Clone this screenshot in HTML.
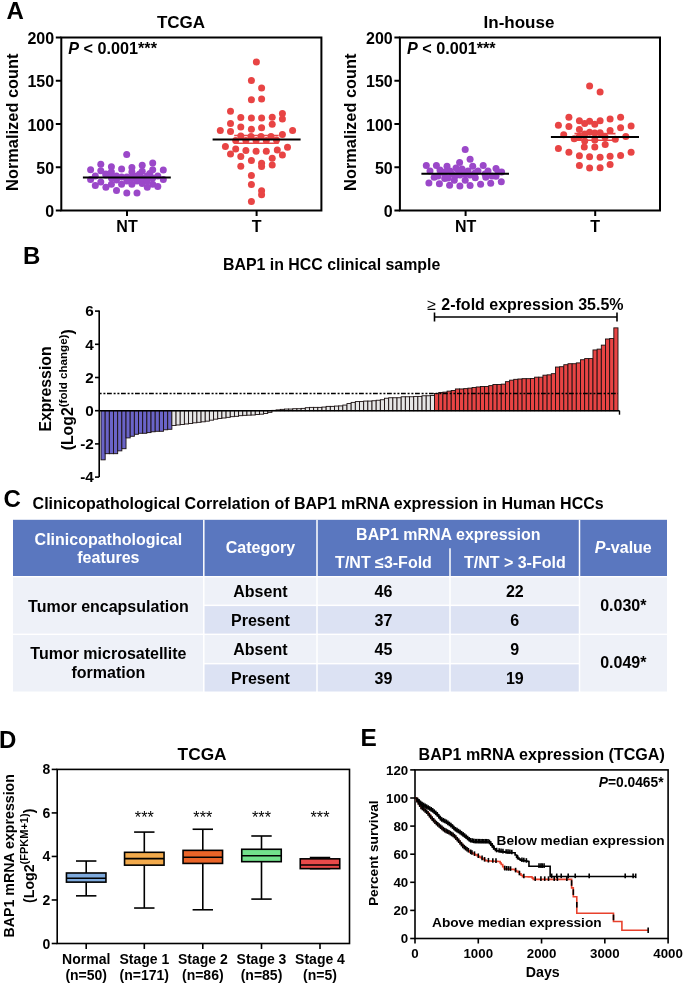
<!DOCTYPE html>
<html><head><meta charset="utf-8"><title>BAP1 figure</title>
<style>
html,body{margin:0;padding:0;background:#fff;}
body{width:685px;height:986px;overflow:hidden;}
svg{display:block;font-family:"Liberation Sans", sans-serif;will-change:transform;}
</style></head>
<body>
<svg width="685" height="986" viewBox="0 0 685 986">
<rect width="685" height="986" fill="#fff"/>
<g id="panelA">
<text x="6.40" y="19.20" font-size="24" text-anchor="start" font-weight="bold" fill="#000">A</text>
<text x="181.00" y="27.70" font-size="17" text-anchor="middle" font-weight="bold" fill="#000">TCGA</text>
<line x1="55.80" y1="210.50" x2="61.30" y2="210.50" stroke="#000" stroke-width="2"/>
<text x="54.10" y="217.00" font-size="16" text-anchor="end" font-weight="bold" fill="#000">0</text>
<line x1="55.80" y1="167.25" x2="61.30" y2="167.25" stroke="#000" stroke-width="2"/>
<text x="54.10" y="173.75" font-size="16" text-anchor="end" font-weight="bold" fill="#000">50</text>
<line x1="55.80" y1="124.00" x2="61.30" y2="124.00" stroke="#000" stroke-width="2"/>
<text x="54.10" y="130.50" font-size="16" text-anchor="end" font-weight="bold" fill="#000">100</text>
<line x1="55.80" y1="80.75" x2="61.30" y2="80.75" stroke="#000" stroke-width="2"/>
<text x="54.10" y="87.25" font-size="16" text-anchor="end" font-weight="bold" fill="#000">150</text>
<line x1="55.80" y1="37.50" x2="61.30" y2="37.50" stroke="#000" stroke-width="2"/>
<text x="54.10" y="44.00" font-size="16" text-anchor="end" font-weight="bold" fill="#000">200</text>
<text x="17.80" y="122.20" font-size="16.4" text-anchor="middle" font-weight="bold" fill="#000" transform="rotate(-90 17.8 122.2)">Normalized count</text>
<line x1="127.00" y1="210.50" x2="127.00" y2="216.00" stroke="#000" stroke-width="2"/>
<text x="127.00" y="231.70" font-size="16" text-anchor="middle" font-weight="bold" fill="#000">NT</text>
<line x1="256.60" y1="210.50" x2="256.60" y2="216.00" stroke="#000" stroke-width="2"/>
<text x="256.60" y="231.70" font-size="16" text-anchor="middle" font-weight="bold" fill="#000">T</text>
<circle cx="126.7" cy="154.4" r="3.5" fill="#9b48c9"/>
<circle cx="90.6" cy="169.7" r="3.5" fill="#9b48c9"/>
<circle cx="90.6" cy="179.6" r="3.5" fill="#9b48c9"/>
<circle cx="95.3" cy="185.4" r="3.5" fill="#9b48c9"/>
<circle cx="95.3" cy="176.0" r="3.5" fill="#9b48c9"/>
<circle cx="100.8" cy="164.2" r="3.5" fill="#9b48c9"/>
<circle cx="100.8" cy="170.8" r="3.5" fill="#9b48c9"/>
<circle cx="100.8" cy="182.1" r="3.5" fill="#9b48c9"/>
<circle cx="105.9" cy="187.2" r="3.5" fill="#9b48c9"/>
<circle cx="105.9" cy="175.0" r="3.5" fill="#9b48c9"/>
<circle cx="111.4" cy="166.8" r="3.5" fill="#9b48c9"/>
<circle cx="111.4" cy="171.9" r="3.5" fill="#9b48c9"/>
<circle cx="111.4" cy="184.3" r="3.5" fill="#9b48c9"/>
<circle cx="111.4" cy="178.0" r="3.5" fill="#9b48c9"/>
<circle cx="116.5" cy="190.5" r="3.5" fill="#9b48c9"/>
<circle cx="116.5" cy="176.0" r="3.5" fill="#9b48c9"/>
<circle cx="121.6" cy="169.0" r="3.5" fill="#9b48c9"/>
<circle cx="121.6" cy="184.3" r="3.5" fill="#9b48c9"/>
<circle cx="121.6" cy="177.0" r="3.5" fill="#9b48c9"/>
<circle cx="126.8" cy="193.1" r="3.5" fill="#9b48c9"/>
<circle cx="126.8" cy="177.0" r="3.5" fill="#9b48c9"/>
<circle cx="131.9" cy="167.5" r="3.5" fill="#9b48c9"/>
<circle cx="131.9" cy="171.9" r="3.5" fill="#9b48c9"/>
<circle cx="131.9" cy="184.3" r="3.5" fill="#9b48c9"/>
<circle cx="131.9" cy="178.0" r="3.5" fill="#9b48c9"/>
<circle cx="137.0" cy="193.1" r="3.5" fill="#9b48c9"/>
<circle cx="137.0" cy="176.0" r="3.5" fill="#9b48c9"/>
<circle cx="142.2" cy="165.3" r="3.5" fill="#9b48c9"/>
<circle cx="142.2" cy="171.2" r="3.5" fill="#9b48c9"/>
<circle cx="142.2" cy="183.6" r="3.5" fill="#9b48c9"/>
<circle cx="142.2" cy="178.0" r="3.5" fill="#9b48c9"/>
<circle cx="147.3" cy="187.2" r="3.5" fill="#9b48c9"/>
<circle cx="147.3" cy="176.0" r="3.5" fill="#9b48c9"/>
<circle cx="152.7" cy="163.1" r="3.5" fill="#9b48c9"/>
<circle cx="152.7" cy="169.7" r="3.5" fill="#9b48c9"/>
<circle cx="152.7" cy="184.3" r="3.5" fill="#9b48c9"/>
<circle cx="152.7" cy="178.0" r="3.5" fill="#9b48c9"/>
<circle cx="157.8" cy="186.5" r="3.5" fill="#9b48c9"/>
<circle cx="157.8" cy="176.0" r="3.5" fill="#9b48c9"/>
<circle cx="163.3" cy="170.1" r="3.5" fill="#9b48c9"/>
<circle cx="163.3" cy="179.6" r="3.5" fill="#9b48c9"/>
<circle cx="139.6" cy="174.1" r="3.5" fill="#9b48c9"/>
<circle cx="149.8" cy="173.4" r="3.5" fill="#9b48c9"/>
<circle cx="105.9" cy="174.0" r="3.5" fill="#9b48c9"/>
<circle cx="116.5" cy="180.0" r="3.5" fill="#9b48c9"/>
<circle cx="126.8" cy="181.0" r="3.5" fill="#9b48c9"/>
<circle cx="137.0" cy="181.0" r="3.5" fill="#9b48c9"/>
<circle cx="147.3" cy="181.0" r="3.5" fill="#9b48c9"/>
<circle cx="256.4" cy="61.9" r="3.5" fill="#e84444"/>
<circle cx="251.4" cy="80.5" r="3.5" fill="#e84444"/>
<circle cx="261.6" cy="88.1" r="3.5" fill="#e84444"/>
<circle cx="251.4" cy="99.8" r="3.5" fill="#e84444"/>
<circle cx="261.6" cy="99.1" r="3.5" fill="#e84444"/>
<circle cx="230.5" cy="111.2" r="3.5" fill="#e84444"/>
<circle cx="240.8" cy="117.5" r="3.5" fill="#e84444"/>
<circle cx="251.4" cy="118.1" r="3.5" fill="#e84444"/>
<circle cx="261.6" cy="118.1" r="3.5" fill="#e84444"/>
<circle cx="272.2" cy="117.3" r="3.5" fill="#e84444"/>
<circle cx="282.4" cy="113.4" r="3.5" fill="#e84444"/>
<circle cx="282.4" cy="119.0" r="3.5" fill="#e84444"/>
<circle cx="230.5" cy="123.6" r="3.5" fill="#e84444"/>
<circle cx="240.8" cy="127.0" r="3.5" fill="#e84444"/>
<circle cx="251.4" cy="129.2" r="3.5" fill="#e84444"/>
<circle cx="261.6" cy="127.7" r="3.5" fill="#e84444"/>
<circle cx="272.2" cy="124.3" r="3.5" fill="#e84444"/>
<circle cx="220.3" cy="130.6" r="3.5" fill="#e84444"/>
<circle cx="292.6" cy="130.6" r="3.5" fill="#e84444"/>
<circle cx="230.5" cy="131.6" r="3.5" fill="#e84444"/>
<circle cx="282.4" cy="134.5" r="3.5" fill="#e84444"/>
<circle cx="240.8" cy="136.0" r="3.5" fill="#e84444"/>
<circle cx="235.7" cy="140.5" r="3.5" fill="#e84444"/>
<circle cx="245.9" cy="140.5" r="3.5" fill="#e84444"/>
<circle cx="256.1" cy="140.5" r="3.5" fill="#e84444"/>
<circle cx="266.3" cy="140.5" r="3.5" fill="#e84444"/>
<circle cx="276.5" cy="140.0" r="3.5" fill="#e84444"/>
<circle cx="251.0" cy="136.5" r="3.5" fill="#e84444"/>
<circle cx="261.0" cy="136.5" r="3.5" fill="#e84444"/>
<circle cx="271.0" cy="136.5" r="3.5" fill="#e84444"/>
<circle cx="225.4" cy="146.6" r="3.5" fill="#e84444"/>
<circle cx="235.7" cy="149.1" r="3.5" fill="#e84444"/>
<circle cx="245.9" cy="150.5" r="3.5" fill="#e84444"/>
<circle cx="256.1" cy="151.3" r="3.5" fill="#e84444"/>
<circle cx="266.3" cy="151.3" r="3.5" fill="#e84444"/>
<circle cx="277.3" cy="150.1" r="3.5" fill="#e84444"/>
<circle cx="287.5" cy="147.2" r="3.5" fill="#e84444"/>
<circle cx="230.5" cy="153.9" r="3.5" fill="#e84444"/>
<circle cx="240.8" cy="156.4" r="3.5" fill="#e84444"/>
<circle cx="282.4" cy="154.9" r="3.5" fill="#e84444"/>
<circle cx="272.2" cy="158.3" r="3.5" fill="#e84444"/>
<circle cx="251.4" cy="160.5" r="3.5" fill="#e84444"/>
<circle cx="261.6" cy="163.2" r="3.5" fill="#e84444"/>
<circle cx="240.8" cy="166.3" r="3.5" fill="#e84444"/>
<circle cx="261.6" cy="166.6" r="3.5" fill="#e84444"/>
<circle cx="272.2" cy="165.1" r="3.5" fill="#e84444"/>
<circle cx="251.4" cy="175.4" r="3.5" fill="#e84444"/>
<circle cx="251.4" cy="184.6" r="3.5" fill="#e84444"/>
<circle cx="261.6" cy="190.7" r="3.5" fill="#e84444"/>
<circle cx="261.6" cy="194.8" r="3.5" fill="#e84444"/>
<circle cx="251.4" cy="201.4" r="3.5" fill="#e84444"/>
<line x1="234.20" y1="135.50" x2="278.70" y2="135.50" stroke="#e84444" stroke-width="1.6"/>
<line x1="234.20" y1="143.20" x2="278.70" y2="143.20" stroke="#e84444" stroke-width="1.6"/>
<line x1="82.90" y1="177.50" x2="170.80" y2="177.50" stroke="#000" stroke-width="2"/>
<line x1="212.60" y1="139.60" x2="300.60" y2="139.60" stroke="#000" stroke-width="2"/>
<rect x="61.30" y="37.50" width="260.10" height="173.00" fill="none" stroke="#000" stroke-width="2"/>
<text x="68.30" y="54.2" font-size="16.2" font-weight="bold"><tspan font-style="italic">P</tspan> &lt; 0.001***</text>
<text x="519.00" y="27.70" font-size="17" text-anchor="middle" font-weight="bold" fill="#000">In-house</text>
<line x1="394.40" y1="210.50" x2="399.90" y2="210.50" stroke="#000" stroke-width="2"/>
<text x="392.70" y="217.00" font-size="16" text-anchor="end" font-weight="bold" fill="#000">0</text>
<line x1="394.40" y1="167.25" x2="399.90" y2="167.25" stroke="#000" stroke-width="2"/>
<text x="392.70" y="173.75" font-size="16" text-anchor="end" font-weight="bold" fill="#000">50</text>
<line x1="394.40" y1="124.00" x2="399.90" y2="124.00" stroke="#000" stroke-width="2"/>
<text x="392.70" y="130.50" font-size="16" text-anchor="end" font-weight="bold" fill="#000">100</text>
<line x1="394.40" y1="80.75" x2="399.90" y2="80.75" stroke="#000" stroke-width="2"/>
<text x="392.70" y="87.25" font-size="16" text-anchor="end" font-weight="bold" fill="#000">150</text>
<line x1="394.40" y1="37.50" x2="399.90" y2="37.50" stroke="#000" stroke-width="2"/>
<text x="392.70" y="44.00" font-size="16" text-anchor="end" font-weight="bold" fill="#000">200</text>
<text x="356.40" y="122.20" font-size="16.4" text-anchor="middle" font-weight="bold" fill="#000" transform="rotate(-90 356.40000000000003 122.2)">Normalized count</text>
<line x1="465.60" y1="210.50" x2="465.60" y2="216.00" stroke="#000" stroke-width="2"/>
<text x="465.60" y="231.70" font-size="16" text-anchor="middle" font-weight="bold" fill="#000">NT</text>
<line x1="595.20" y1="210.50" x2="595.20" y2="216.00" stroke="#000" stroke-width="2"/>
<text x="595.20" y="231.70" font-size="16" text-anchor="middle" font-weight="bold" fill="#000">T</text>
<circle cx="465.2" cy="149.6" r="3.5" fill="#9b48c9"/>
<circle cx="470.1" cy="159.3" r="3.5" fill="#9b48c9"/>
<circle cx="459.6" cy="162.4" r="3.5" fill="#9b48c9"/>
<circle cx="426.3" cy="165.4" r="3.5" fill="#9b48c9"/>
<circle cx="436.4" cy="165.4" r="3.5" fill="#9b48c9"/>
<circle cx="447.0" cy="166.3" r="3.5" fill="#9b48c9"/>
<circle cx="483.2" cy="165.4" r="3.5" fill="#9b48c9"/>
<circle cx="496.0" cy="168.4" r="3.5" fill="#9b48c9"/>
<circle cx="501.6" cy="172.1" r="3.5" fill="#9b48c9"/>
<circle cx="472.7" cy="166.3" r="3.5" fill="#9b48c9"/>
<circle cx="428.9" cy="182.9" r="3.5" fill="#9b48c9"/>
<circle cx="439.4" cy="183.8" r="3.5" fill="#9b48c9"/>
<circle cx="449.6" cy="185.2" r="3.5" fill="#9b48c9"/>
<circle cx="459.9" cy="186.1" r="3.5" fill="#9b48c9"/>
<circle cx="470.1" cy="185.5" r="3.5" fill="#9b48c9"/>
<circle cx="480.6" cy="184.3" r="3.5" fill="#9b48c9"/>
<circle cx="490.7" cy="183.3" r="3.5" fill="#9b48c9"/>
<circle cx="501.3" cy="181.7" r="3.5" fill="#9b48c9"/>
<circle cx="434.2" cy="177.3" r="3.5" fill="#9b48c9"/>
<circle cx="444.7" cy="178.5" r="3.5" fill="#9b48c9"/>
<circle cx="454.3" cy="180.3" r="3.5" fill="#9b48c9"/>
<circle cx="465.2" cy="180.3" r="3.5" fill="#9b48c9"/>
<circle cx="475.3" cy="177.7" r="3.5" fill="#9b48c9"/>
<circle cx="485.8" cy="177.3" r="3.5" fill="#9b48c9"/>
<circle cx="496.0" cy="176.3" r="3.5" fill="#9b48c9"/>
<circle cx="430.0" cy="171.0" r="3.5" fill="#9b48c9"/>
<circle cx="440.0" cy="170.0" r="3.5" fill="#9b48c9"/>
<circle cx="450.0" cy="171.0" r="3.5" fill="#9b48c9"/>
<circle cx="456.0" cy="168.0" r="3.5" fill="#9b48c9"/>
<circle cx="462.0" cy="169.0" r="3.5" fill="#9b48c9"/>
<circle cx="468.0" cy="171.0" r="3.5" fill="#9b48c9"/>
<circle cx="478.0" cy="171.0" r="3.5" fill="#9b48c9"/>
<circle cx="488.0" cy="171.0" r="3.5" fill="#9b48c9"/>
<circle cx="498.0" cy="172.0" r="3.5" fill="#9b48c9"/>
<circle cx="452.0" cy="174.0" r="3.5" fill="#9b48c9"/>
<circle cx="460.0" cy="175.0" r="3.5" fill="#9b48c9"/>
<circle cx="470.0" cy="175.0" r="3.5" fill="#9b48c9"/>
<circle cx="444.0" cy="173.0" r="3.5" fill="#9b48c9"/>
<circle cx="445.0" cy="172.0" r="3.5" fill="#9b48c9"/>
<circle cx="455.0" cy="176.0" r="3.5" fill="#9b48c9"/>
<circle cx="465.0" cy="174.0" r="3.5" fill="#9b48c9"/>
<circle cx="475.0" cy="173.0" r="3.5" fill="#9b48c9"/>
<circle cx="485.0" cy="174.0" r="3.5" fill="#9b48c9"/>
<circle cx="438.0" cy="176.0" r="3.5" fill="#9b48c9"/>
<circle cx="492.0" cy="176.0" r="3.5" fill="#9b48c9"/>
<circle cx="458.0" cy="170.0" r="3.5" fill="#9b48c9"/>
<circle cx="448.0" cy="178.0" r="3.5" fill="#9b48c9"/>
<circle cx="589.6" cy="86.1" r="3.5" fill="#e84444"/>
<circle cx="600.1" cy="91.9" r="3.5" fill="#e84444"/>
<circle cx="568.9" cy="117.3" r="3.5" fill="#e84444"/>
<circle cx="620.6" cy="117.3" r="3.5" fill="#e84444"/>
<circle cx="579.4" cy="120.8" r="3.5" fill="#e84444"/>
<circle cx="589.6" cy="121.2" r="3.5" fill="#e84444"/>
<circle cx="600.1" cy="120.8" r="3.5" fill="#e84444"/>
<circle cx="610.1" cy="119.1" r="3.5" fill="#e84444"/>
<circle cx="584.7" cy="123.4" r="3.5" fill="#e84444"/>
<circle cx="594.8" cy="124.3" r="3.5" fill="#e84444"/>
<circle cx="558.4" cy="125.2" r="3.5" fill="#e84444"/>
<circle cx="568.9" cy="126.4" r="3.5" fill="#e84444"/>
<circle cx="620.6" cy="127.8" r="3.5" fill="#e84444"/>
<circle cx="631.1" cy="126.1" r="3.5" fill="#e84444"/>
<circle cx="579.4" cy="129.6" r="3.5" fill="#e84444"/>
<circle cx="610.1" cy="130.4" r="3.5" fill="#e84444"/>
<circle cx="563.7" cy="134.8" r="3.5" fill="#e84444"/>
<circle cx="584.7" cy="134.0" r="3.5" fill="#e84444"/>
<circle cx="589.6" cy="132.2" r="3.5" fill="#e84444"/>
<circle cx="594.8" cy="133.1" r="3.5" fill="#e84444"/>
<circle cx="600.1" cy="132.7" r="3.5" fill="#e84444"/>
<circle cx="574.2" cy="138.7" r="3.5" fill="#e84444"/>
<circle cx="584.7" cy="141.0" r="3.5" fill="#e84444"/>
<circle cx="594.8" cy="140.0" r="3.5" fill="#e84444"/>
<circle cx="615.3" cy="139.2" r="3.5" fill="#e84444"/>
<circle cx="625.8" cy="136.6" r="3.5" fill="#e84444"/>
<circle cx="558.4" cy="148.5" r="3.5" fill="#e84444"/>
<circle cx="568.9" cy="152.3" r="3.5" fill="#e84444"/>
<circle cx="584.3" cy="147.1" r="3.5" fill="#e84444"/>
<circle cx="594.8" cy="147.1" r="3.5" fill="#e84444"/>
<circle cx="605.2" cy="144.5" r="3.5" fill="#e84444"/>
<circle cx="579.4" cy="155.8" r="3.5" fill="#e84444"/>
<circle cx="589.6" cy="156.7" r="3.5" fill="#e84444"/>
<circle cx="600.1" cy="157.2" r="3.5" fill="#e84444"/>
<circle cx="610.1" cy="156.2" r="3.5" fill="#e84444"/>
<circle cx="620.6" cy="155.5" r="3.5" fill="#e84444"/>
<circle cx="631.1" cy="152.3" r="3.5" fill="#e84444"/>
<circle cx="579.4" cy="165.5" r="3.5" fill="#e84444"/>
<circle cx="589.6" cy="168.1" r="3.5" fill="#e84444"/>
<circle cx="600.1" cy="167.8" r="3.5" fill="#e84444"/>
<circle cx="610.1" cy="164.6" r="3.5" fill="#e84444"/>
<circle cx="605.0" cy="137.0" r="3.5" fill="#e84444"/>
<circle cx="579.0" cy="137.0" r="3.5" fill="#e84444"/>
<line x1="574.50" y1="133.60" x2="615.50" y2="133.60" stroke="#e84444" stroke-width="1.6"/>
<line x1="574.50" y1="140.20" x2="615.50" y2="140.20" stroke="#e84444" stroke-width="1.6"/>
<line x1="421.40" y1="173.70" x2="509.00" y2="173.70" stroke="#000" stroke-width="2"/>
<line x1="550.90" y1="136.90" x2="639.00" y2="136.90" stroke="#000" stroke-width="2"/>
<rect x="399.90" y="37.50" width="260.10" height="173.00" fill="none" stroke="#000" stroke-width="2"/>
<text x="406.90" y="54.2" font-size="16.2" font-weight="bold"><tspan font-style="italic">P</tspan> &lt; 0.001***</text>
</g>
<g id="panelB">
<text x="23.00" y="263.80" font-size="24" text-anchor="start" font-weight="bold" fill="#000">B</text>
<text x="223.00" y="269.50" font-size="15.9" text-anchor="start" font-weight="bold" fill="#000">BAP1 in HCC clinical sample</text>
<rect x="101.00" y="410.70" width="4.17" height="49.14" fill="#6a64c8" stroke="#1a1010" stroke-width="0.9"/>
<rect x="105.17" y="410.70" width="4.17" height="42.99" fill="#6a64c8" stroke="#1a1010" stroke-width="0.9"/>
<rect x="109.34" y="410.70" width="4.17" height="42.99" fill="#6a64c8" stroke="#1a1010" stroke-width="0.9"/>
<rect x="113.51" y="410.70" width="4.17" height="42.99" fill="#6a64c8" stroke="#1a1010" stroke-width="0.9"/>
<rect x="117.68" y="410.70" width="4.17" height="40.17" fill="#6a64c8" stroke="#1a1010" stroke-width="0.9"/>
<rect x="121.85" y="410.70" width="4.17" height="38.01" fill="#6a64c8" stroke="#1a1010" stroke-width="0.9"/>
<rect x="126.02" y="410.70" width="4.17" height="27.22" fill="#6a64c8" stroke="#1a1010" stroke-width="0.9"/>
<rect x="130.19" y="410.70" width="4.17" height="25.56" fill="#6a64c8" stroke="#1a1010" stroke-width="0.9"/>
<rect x="134.35" y="410.70" width="4.17" height="23.57" fill="#6a64c8" stroke="#1a1010" stroke-width="0.9"/>
<rect x="138.52" y="410.70" width="4.17" height="22.58" fill="#6a64c8" stroke="#1a1010" stroke-width="0.9"/>
<rect x="142.69" y="410.70" width="4.17" height="22.58" fill="#6a64c8" stroke="#1a1010" stroke-width="0.9"/>
<rect x="146.86" y="410.70" width="4.17" height="21.91" fill="#6a64c8" stroke="#1a1010" stroke-width="0.9"/>
<rect x="151.03" y="410.70" width="4.17" height="21.08" fill="#6a64c8" stroke="#1a1010" stroke-width="0.9"/>
<rect x="155.20" y="410.70" width="4.17" height="20.58" fill="#6a64c8" stroke="#1a1010" stroke-width="0.9"/>
<rect x="159.37" y="410.70" width="4.17" height="20.58" fill="#6a64c8" stroke="#1a1010" stroke-width="0.9"/>
<rect x="163.54" y="410.70" width="4.17" height="19.09" fill="#6a64c8" stroke="#1a1010" stroke-width="0.9"/>
<rect x="167.71" y="410.70" width="4.17" height="18.59" fill="#6a64c8" stroke="#1a1010" stroke-width="0.9"/>
<rect x="171.88" y="410.70" width="4.17" height="14.77" fill="#e6e6e6" stroke="#1a1010" stroke-width="0.9"/>
<rect x="176.05" y="410.70" width="4.17" height="14.28" fill="#e6e6e6" stroke="#1a1010" stroke-width="0.9"/>
<rect x="180.22" y="410.70" width="4.17" height="13.78" fill="#e6e6e6" stroke="#1a1010" stroke-width="0.9"/>
<rect x="184.39" y="410.70" width="4.17" height="13.28" fill="#e6e6e6" stroke="#1a1010" stroke-width="0.9"/>
<rect x="188.56" y="410.70" width="4.17" height="12.78" fill="#e6e6e6" stroke="#1a1010" stroke-width="0.9"/>
<rect x="192.73" y="410.70" width="4.17" height="12.12" fill="#e6e6e6" stroke="#1a1010" stroke-width="0.9"/>
<rect x="196.90" y="410.70" width="4.17" height="11.62" fill="#e6e6e6" stroke="#1a1010" stroke-width="0.9"/>
<rect x="201.06" y="410.70" width="4.17" height="11.12" fill="#e6e6e6" stroke="#1a1010" stroke-width="0.9"/>
<rect x="205.23" y="410.70" width="4.17" height="10.46" fill="#e6e6e6" stroke="#1a1010" stroke-width="0.9"/>
<rect x="209.40" y="410.70" width="4.17" height="9.46" fill="#e6e6e6" stroke="#1a1010" stroke-width="0.9"/>
<rect x="213.57" y="410.70" width="4.17" height="8.47" fill="#e6e6e6" stroke="#1a1010" stroke-width="0.9"/>
<rect x="217.74" y="410.70" width="4.17" height="7.80" fill="#e6e6e6" stroke="#1a1010" stroke-width="0.9"/>
<rect x="221.91" y="410.70" width="4.17" height="7.30" fill="#e6e6e6" stroke="#1a1010" stroke-width="0.9"/>
<rect x="226.08" y="410.70" width="4.17" height="6.64" fill="#e6e6e6" stroke="#1a1010" stroke-width="0.9"/>
<rect x="230.25" y="410.70" width="4.17" height="5.98" fill="#e6e6e6" stroke="#1a1010" stroke-width="0.9"/>
<rect x="234.42" y="410.70" width="4.17" height="5.64" fill="#e6e6e6" stroke="#1a1010" stroke-width="0.9"/>
<rect x="238.59" y="410.70" width="4.17" height="4.98" fill="#e6e6e6" stroke="#1a1010" stroke-width="0.9"/>
<rect x="242.76" y="410.70" width="4.17" height="4.65" fill="#e6e6e6" stroke="#1a1010" stroke-width="0.9"/>
<rect x="246.93" y="410.70" width="4.17" height="4.48" fill="#e6e6e6" stroke="#1a1010" stroke-width="0.9"/>
<rect x="251.10" y="410.70" width="4.17" height="4.32" fill="#e6e6e6" stroke="#1a1010" stroke-width="0.9"/>
<rect x="255.27" y="410.70" width="4.17" height="3.82" fill="#e6e6e6" stroke="#1a1010" stroke-width="0.9"/>
<rect x="259.44" y="410.70" width="4.17" height="3.49" fill="#e6e6e6" stroke="#1a1010" stroke-width="0.9"/>
<rect x="263.60" y="410.70" width="4.17" height="2.82" fill="#e6e6e6" stroke="#1a1010" stroke-width="0.9"/>
<rect x="267.77" y="410.70" width="4.17" height="1.66" fill="#e6e6e6" stroke="#1a1010" stroke-width="0.9"/>
<rect x="271.94" y="410.37" width="4.17" height="0.33" fill="#e6e6e6" stroke="#1a1010" stroke-width="0.9"/>
<rect x="276.11" y="409.87" width="4.17" height="0.83" fill="#e6e6e6" stroke="#1a1010" stroke-width="0.9"/>
<rect x="280.28" y="409.37" width="4.17" height="1.33" fill="#e6e6e6" stroke="#1a1010" stroke-width="0.9"/>
<rect x="284.45" y="409.04" width="4.17" height="1.66" fill="#e6e6e6" stroke="#1a1010" stroke-width="0.9"/>
<rect x="288.62" y="409.04" width="4.17" height="1.66" fill="#e6e6e6" stroke="#1a1010" stroke-width="0.9"/>
<rect x="292.79" y="408.71" width="4.17" height="1.99" fill="#e6e6e6" stroke="#1a1010" stroke-width="0.9"/>
<rect x="296.96" y="408.71" width="4.17" height="1.99" fill="#e6e6e6" stroke="#1a1010" stroke-width="0.9"/>
<rect x="301.13" y="408.38" width="4.17" height="2.32" fill="#e6e6e6" stroke="#1a1010" stroke-width="0.9"/>
<rect x="305.30" y="407.71" width="4.17" height="2.99" fill="#e6e6e6" stroke="#1a1010" stroke-width="0.9"/>
<rect x="309.47" y="407.38" width="4.17" height="3.32" fill="#e6e6e6" stroke="#1a1010" stroke-width="0.9"/>
<rect x="313.64" y="407.38" width="4.17" height="3.32" fill="#e6e6e6" stroke="#1a1010" stroke-width="0.9"/>
<rect x="317.81" y="407.38" width="4.17" height="3.32" fill="#e6e6e6" stroke="#1a1010" stroke-width="0.9"/>
<rect x="321.98" y="407.05" width="4.17" height="3.65" fill="#e6e6e6" stroke="#1a1010" stroke-width="0.9"/>
<rect x="326.15" y="406.38" width="4.17" height="4.32" fill="#e6e6e6" stroke="#1a1010" stroke-width="0.9"/>
<rect x="330.31" y="406.38" width="4.17" height="4.32" fill="#e6e6e6" stroke="#1a1010" stroke-width="0.9"/>
<rect x="334.48" y="406.05" width="4.17" height="4.65" fill="#e6e6e6" stroke="#1a1010" stroke-width="0.9"/>
<rect x="338.65" y="405.89" width="4.17" height="4.81" fill="#e6e6e6" stroke="#1a1010" stroke-width="0.9"/>
<rect x="342.82" y="405.06" width="4.17" height="5.64" fill="#e6e6e6" stroke="#1a1010" stroke-width="0.9"/>
<rect x="346.99" y="403.56" width="4.17" height="7.14" fill="#e6e6e6" stroke="#1a1010" stroke-width="0.9"/>
<rect x="351.16" y="402.40" width="4.17" height="8.30" fill="#e6e6e6" stroke="#1a1010" stroke-width="0.9"/>
<rect x="355.33" y="401.57" width="4.17" height="9.13" fill="#e6e6e6" stroke="#1a1010" stroke-width="0.9"/>
<rect x="359.50" y="401.57" width="4.17" height="9.13" fill="#e6e6e6" stroke="#1a1010" stroke-width="0.9"/>
<rect x="363.67" y="401.07" width="4.17" height="9.63" fill="#e6e6e6" stroke="#1a1010" stroke-width="0.9"/>
<rect x="367.84" y="401.07" width="4.17" height="9.63" fill="#e6e6e6" stroke="#1a1010" stroke-width="0.9"/>
<rect x="372.01" y="400.74" width="4.17" height="9.96" fill="#e6e6e6" stroke="#1a1010" stroke-width="0.9"/>
<rect x="376.18" y="400.24" width="4.17" height="10.46" fill="#e6e6e6" stroke="#1a1010" stroke-width="0.9"/>
<rect x="380.35" y="399.74" width="4.17" height="10.96" fill="#e6e6e6" stroke="#1a1010" stroke-width="0.9"/>
<rect x="384.52" y="398.25" width="4.17" height="12.45" fill="#e6e6e6" stroke="#1a1010" stroke-width="0.9"/>
<rect x="388.69" y="397.75" width="4.17" height="12.95" fill="#e6e6e6" stroke="#1a1010" stroke-width="0.9"/>
<rect x="392.85" y="397.75" width="4.17" height="12.95" fill="#e6e6e6" stroke="#1a1010" stroke-width="0.9"/>
<rect x="397.02" y="397.75" width="4.17" height="12.95" fill="#e6e6e6" stroke="#1a1010" stroke-width="0.9"/>
<rect x="401.19" y="396.76" width="4.17" height="13.94" fill="#e6e6e6" stroke="#1a1010" stroke-width="0.9"/>
<rect x="405.36" y="396.76" width="4.17" height="13.94" fill="#e6e6e6" stroke="#1a1010" stroke-width="0.9"/>
<rect x="409.53" y="396.76" width="4.17" height="13.94" fill="#e6e6e6" stroke="#1a1010" stroke-width="0.9"/>
<rect x="413.70" y="396.42" width="4.17" height="14.28" fill="#e6e6e6" stroke="#1a1010" stroke-width="0.9"/>
<rect x="417.87" y="396.42" width="4.17" height="14.28" fill="#e6e6e6" stroke="#1a1010" stroke-width="0.9"/>
<rect x="422.04" y="395.76" width="4.17" height="14.94" fill="#e6e6e6" stroke="#1a1010" stroke-width="0.9"/>
<rect x="426.21" y="395.76" width="4.17" height="14.94" fill="#e6e6e6" stroke="#1a1010" stroke-width="0.9"/>
<rect x="430.38" y="395.43" width="4.17" height="15.27" fill="#e6e6e6" stroke="#1a1010" stroke-width="0.9"/>
<rect x="434.55" y="393.44" width="4.17" height="17.26" fill="#e84444" stroke="#1a1010" stroke-width="0.9"/>
<rect x="438.72" y="392.44" width="4.17" height="18.26" fill="#e84444" stroke="#1a1010" stroke-width="0.9"/>
<rect x="442.89" y="392.11" width="4.17" height="18.59" fill="#e84444" stroke="#1a1010" stroke-width="0.9"/>
<rect x="447.06" y="391.11" width="4.17" height="19.59" fill="#e84444" stroke="#1a1010" stroke-width="0.9"/>
<rect x="451.23" y="390.45" width="4.17" height="20.25" fill="#e84444" stroke="#1a1010" stroke-width="0.9"/>
<rect x="455.40" y="388.95" width="4.17" height="21.75" fill="#e84444" stroke="#1a1010" stroke-width="0.9"/>
<rect x="459.56" y="388.95" width="4.17" height="21.75" fill="#e84444" stroke="#1a1010" stroke-width="0.9"/>
<rect x="463.73" y="388.62" width="4.17" height="22.08" fill="#e84444" stroke="#1a1010" stroke-width="0.9"/>
<rect x="467.90" y="388.12" width="4.17" height="22.58" fill="#e84444" stroke="#1a1010" stroke-width="0.9"/>
<rect x="472.07" y="387.46" width="4.17" height="23.24" fill="#e84444" stroke="#1a1010" stroke-width="0.9"/>
<rect x="476.24" y="386.96" width="4.17" height="23.74" fill="#e84444" stroke="#1a1010" stroke-width="0.9"/>
<rect x="480.41" y="386.46" width="4.17" height="24.24" fill="#e84444" stroke="#1a1010" stroke-width="0.9"/>
<rect x="484.58" y="386.46" width="4.17" height="24.24" fill="#e84444" stroke="#1a1010" stroke-width="0.9"/>
<rect x="488.75" y="385.63" width="4.17" height="25.07" fill="#e84444" stroke="#1a1010" stroke-width="0.9"/>
<rect x="492.92" y="384.47" width="4.17" height="26.23" fill="#e84444" stroke="#1a1010" stroke-width="0.9"/>
<rect x="497.09" y="384.47" width="4.17" height="26.23" fill="#e84444" stroke="#1a1010" stroke-width="0.9"/>
<rect x="501.26" y="384.14" width="4.17" height="26.56" fill="#e84444" stroke="#1a1010" stroke-width="0.9"/>
<rect x="505.43" y="381.65" width="4.17" height="29.05" fill="#e84444" stroke="#1a1010" stroke-width="0.9"/>
<rect x="509.60" y="380.16" width="4.17" height="30.54" fill="#e84444" stroke="#1a1010" stroke-width="0.9"/>
<rect x="513.77" y="379.33" width="4.17" height="31.37" fill="#e84444" stroke="#1a1010" stroke-width="0.9"/>
<rect x="517.94" y="378.99" width="4.17" height="31.71" fill="#e84444" stroke="#1a1010" stroke-width="0.9"/>
<rect x="522.10" y="378.66" width="4.17" height="32.04" fill="#e84444" stroke="#1a1010" stroke-width="0.9"/>
<rect x="526.27" y="378.66" width="4.17" height="32.04" fill="#e84444" stroke="#1a1010" stroke-width="0.9"/>
<rect x="530.44" y="378.50" width="4.17" height="32.20" fill="#e84444" stroke="#1a1010" stroke-width="0.9"/>
<rect x="534.61" y="377.17" width="4.17" height="33.53" fill="#e84444" stroke="#1a1010" stroke-width="0.9"/>
<rect x="538.78" y="377.17" width="4.17" height="33.53" fill="#e84444" stroke="#1a1010" stroke-width="0.9"/>
<rect x="542.95" y="375.18" width="4.17" height="35.52" fill="#e84444" stroke="#1a1010" stroke-width="0.9"/>
<rect x="547.12" y="374.84" width="4.17" height="35.86" fill="#e84444" stroke="#1a1010" stroke-width="0.9"/>
<rect x="551.29" y="373.68" width="4.17" height="37.02" fill="#e84444" stroke="#1a1010" stroke-width="0.9"/>
<rect x="555.46" y="367.04" width="4.17" height="43.66" fill="#e84444" stroke="#1a1010" stroke-width="0.9"/>
<rect x="559.63" y="366.71" width="4.17" height="43.99" fill="#e84444" stroke="#1a1010" stroke-width="0.9"/>
<rect x="563.80" y="364.72" width="4.17" height="45.98" fill="#e84444" stroke="#1a1010" stroke-width="0.9"/>
<rect x="567.97" y="363.72" width="4.17" height="46.98" fill="#e84444" stroke="#1a1010" stroke-width="0.9"/>
<rect x="572.14" y="363.72" width="4.17" height="46.98" fill="#e84444" stroke="#1a1010" stroke-width="0.9"/>
<rect x="576.31" y="362.89" width="4.17" height="47.81" fill="#e84444" stroke="#1a1010" stroke-width="0.9"/>
<rect x="580.48" y="359.74" width="4.17" height="50.96" fill="#e84444" stroke="#1a1010" stroke-width="0.9"/>
<rect x="584.65" y="358.58" width="4.17" height="52.12" fill="#e84444" stroke="#1a1010" stroke-width="0.9"/>
<rect x="588.81" y="358.58" width="4.17" height="52.12" fill="#e84444" stroke="#1a1010" stroke-width="0.9"/>
<rect x="592.98" y="349.94" width="4.17" height="60.76" fill="#e84444" stroke="#1a1010" stroke-width="0.9"/>
<rect x="597.15" y="349.11" width="4.17" height="61.59" fill="#e84444" stroke="#1a1010" stroke-width="0.9"/>
<rect x="601.32" y="345.13" width="4.17" height="65.57" fill="#e84444" stroke="#1a1010" stroke-width="0.9"/>
<rect x="605.49" y="338.99" width="4.17" height="71.71" fill="#e84444" stroke="#1a1010" stroke-width="0.9"/>
<rect x="609.66" y="338.49" width="4.17" height="72.21" fill="#e84444" stroke="#1a1010" stroke-width="0.9"/>
<rect x="613.83" y="327.87" width="4.17" height="82.83" fill="#e84444" stroke="#1a1010" stroke-width="0.9"/>
<line x1="100.00" y1="393.50" x2="618.00" y2="393.50" stroke="#000" stroke-width="1.5" stroke-dasharray="4.8 1.8 2 1.8 2 1.6" stroke-dashoffset="7"/>
<line x1="99.20" y1="410.70" x2="619.50" y2="410.70" stroke="#000" stroke-width="1.6"/>
<line x1="619.50" y1="410.70" x2="619.50" y2="414.70" stroke="#000" stroke-width="1.4"/>
<line x1="99.20" y1="310.50" x2="99.20" y2="477.00" stroke="#000" stroke-width="1.6"/>
<line x1="95.00" y1="311.10" x2="99.20" y2="311.10" stroke="#000" stroke-width="1.6"/>
<text x="93.80" y="316.40" font-size="15.3" text-anchor="end" font-weight="bold" fill="#000">6</text>
<line x1="95.00" y1="344.30" x2="99.20" y2="344.30" stroke="#000" stroke-width="1.6"/>
<text x="93.80" y="349.60" font-size="15.3" text-anchor="end" font-weight="bold" fill="#000">4</text>
<line x1="95.00" y1="377.50" x2="99.20" y2="377.50" stroke="#000" stroke-width="1.6"/>
<text x="93.80" y="382.80" font-size="15.3" text-anchor="end" font-weight="bold" fill="#000">2</text>
<line x1="95.00" y1="410.70" x2="99.20" y2="410.70" stroke="#000" stroke-width="1.6"/>
<text x="93.80" y="416.00" font-size="15.3" text-anchor="end" font-weight="bold" fill="#000">0</text>
<line x1="95.00" y1="443.90" x2="99.20" y2="443.90" stroke="#000" stroke-width="1.6"/>
<text x="93.80" y="449.20" font-size="15.3" text-anchor="end" font-weight="bold" fill="#000">-2</text>
<line x1="95.00" y1="477.10" x2="99.20" y2="477.10" stroke="#000" stroke-width="1.6"/>
<text x="93.80" y="482.40" font-size="15.3" text-anchor="end" font-weight="bold" fill="#000">-4</text>
<text x="50.80" y="389.00" font-size="15.8" text-anchor="middle" font-weight="bold" fill="#000" transform="rotate(-90 50.8 389)">Expression</text>
<text x="73.5" y="389.8" font-size="15.8" font-weight="bold" text-anchor="middle" transform="rotate(-90 73.5 389.8)">(Log2<tspan font-size="11.6" dy="-6.5">(fold change)</tspan><tspan dy="6.5">)</tspan></text>
<line x1="434.50" y1="317.00" x2="617.00" y2="317.00" stroke="#000" stroke-width="1.6"/>
<line x1="434.50" y1="312.50" x2="434.50" y2="321.50" stroke="#000" stroke-width="1.6"/>
<line x1="617.00" y1="312.50" x2="617.00" y2="321.50" stroke="#000" stroke-width="1.6"/>
<text x="427.20" y="309.60" font-size="16.0" text-anchor="start" font-weight="normal" fill="#000">≥</text>
<text x="441.30" y="309.60" font-size="16.0" text-anchor="start" font-weight="bold" fill="#000">2-fold expression 35.5%</text>
</g>
<g id="panelC">
<text x="3.40" y="507.30" font-size="24" text-anchor="start" font-weight="bold" fill="#000">C</text>
<text x="32.60" y="508.80" font-size="16" text-anchor="start" font-weight="bold" fill="#000">Clinicopathological Correlation of BAP1 mRNA expression in Human HCCs</text>
<rect x="13.00" y="519.80" width="654.00" height="171.70" fill="#ffffff"/>
<rect x="13.00" y="519.80" width="654.00" height="56.20" fill="#5a77bf"/>
<rect x="13.00" y="577.40" width="190.05" height="56.20" fill="#eef1f8"/>
<rect x="580.25" y="577.40" width="86.75" height="56.20" fill="#eef1f8"/>
<rect x="13.00" y="635.00" width="190.05" height="56.50" fill="#eef1f8"/>
<rect x="580.25" y="635.00" width="86.75" height="56.50" fill="#eef1f8"/>
<rect x="204.55" y="577.40" width="111.70" height="27.20" fill="#eef1f8"/>
<rect x="317.75" y="577.40" width="131.50" height="27.20" fill="#eef1f8"/>
<rect x="450.75" y="577.40" width="128.00" height="27.20" fill="#eef1f8"/>
<rect x="204.55" y="606.10" width="111.70" height="27.50" fill="#dce2f3"/>
<rect x="317.75" y="606.10" width="131.50" height="27.50" fill="#dce2f3"/>
<rect x="450.75" y="606.10" width="128.00" height="27.50" fill="#dce2f3"/>
<rect x="204.55" y="635.00" width="111.70" height="27.90" fill="#eef1f8"/>
<rect x="317.75" y="635.00" width="131.50" height="27.90" fill="#eef1f8"/>
<rect x="450.75" y="635.00" width="128.00" height="27.90" fill="#eef1f8"/>
<rect x="204.55" y="664.40" width="111.70" height="27.10" fill="#dce2f3"/>
<rect x="317.75" y="664.40" width="131.50" height="27.10" fill="#dce2f3"/>
<rect x="450.75" y="664.40" width="128.00" height="27.10" fill="#dce2f3"/>
<line x1="203.80" y1="519.80" x2="203.80" y2="576.00" stroke="#ffffff" stroke-width="1.5"/>
<line x1="317.00" y1="519.80" x2="317.00" y2="576.00" stroke="#ffffff" stroke-width="1.5"/>
<line x1="579.50" y1="519.80" x2="579.50" y2="576.00" stroke="#ffffff" stroke-width="1.5"/>
<line x1="450.00" y1="548.20" x2="450.00" y2="576.00" stroke="#ffffff" stroke-width="1.5"/>
<text x="108.40" y="545.00" font-size="16" text-anchor="middle" font-weight="bold" fill="#ffffff">Clinicopathological</text>
<text x="108.40" y="562.60" font-size="16" text-anchor="middle" font-weight="bold" fill="#ffffff">features</text>
<text x="260.40" y="553.40" font-size="16" text-anchor="middle" font-weight="bold" fill="#ffffff">Category</text>
<text x="448.30" y="539.60" font-size="16" text-anchor="middle" font-weight="bold" fill="#ffffff">BAP1 mRNA expression</text>
<text x="383.50" y="568.00" font-size="16" text-anchor="middle" font-weight="bold" fill="#ffffff">T/NT ≤3-Fold</text>
<text x="514.80" y="568.00" font-size="16" text-anchor="middle" font-weight="bold" fill="#ffffff">T/NT &gt; 3-Fold</text>
<text x="623.3" y="553.2" font-size="16" font-weight="bold" text-anchor="middle" fill="#fff"><tspan font-style="italic">P</tspan>-value</text>
<text x="108.40" y="611.60" font-size="16" text-anchor="middle" font-weight="bold" fill="#000">Tumor encapsulation</text>
<text x="108.40" y="659.00" font-size="16" text-anchor="middle" font-weight="bold" fill="#000">Tumor microsatellite</text>
<text x="108.40" y="678.20" font-size="16" text-anchor="middle" font-weight="bold" fill="#000">formation</text>
<text x="260.40" y="596.80" font-size="16" text-anchor="middle" font-weight="bold" fill="#000">Absent</text>
<text x="383.50" y="596.80" font-size="16" text-anchor="middle" font-weight="bold" fill="#000">46</text>
<text x="514.80" y="596.80" font-size="16" text-anchor="middle" font-weight="bold" fill="#000">22</text>
<text x="260.40" y="626.00" font-size="16" text-anchor="middle" font-weight="bold" fill="#000">Present</text>
<text x="383.50" y="626.00" font-size="16" text-anchor="middle" font-weight="bold" fill="#000">37</text>
<text x="514.80" y="626.00" font-size="16" text-anchor="middle" font-weight="bold" fill="#000">6</text>
<text x="260.40" y="655.00" font-size="16" text-anchor="middle" font-weight="bold" fill="#000">Absent</text>
<text x="383.50" y="655.00" font-size="16" text-anchor="middle" font-weight="bold" fill="#000">45</text>
<text x="514.80" y="655.00" font-size="16" text-anchor="middle" font-weight="bold" fill="#000">9</text>
<text x="260.40" y="684.00" font-size="16" text-anchor="middle" font-weight="bold" fill="#000">Present</text>
<text x="383.50" y="684.00" font-size="16" text-anchor="middle" font-weight="bold" fill="#000">39</text>
<text x="514.80" y="684.00" font-size="16" text-anchor="middle" font-weight="bold" fill="#000">19</text>
<text x="623.30" y="610.90" font-size="16" text-anchor="middle" font-weight="bold" fill="#000">0.030*</text>
<text x="623.30" y="668.40" font-size="16" text-anchor="middle" font-weight="bold" fill="#000">0.049*</text>
</g>
<g id="panelD">
<text x="-1.00" y="747.60" font-size="24" text-anchor="start" font-weight="bold" fill="#000">D</text>
<text x="202.10" y="759.60" font-size="17.3" text-anchor="middle" font-weight="bold" fill="#000">TCGA</text>
<rect x="57.2" y="769.4" width="292.30" height="174.10" fill="none" stroke="#000" stroke-width="1.6"/>
<line x1="51.70" y1="943.50" x2="57.20" y2="943.50" stroke="#000" stroke-width="1.6"/>
<text x="50.20" y="948.50" font-size="14" text-anchor="end" font-weight="bold" fill="#000">0</text>
<line x1="51.70" y1="899.98" x2="57.20" y2="899.98" stroke="#000" stroke-width="1.6"/>
<text x="50.20" y="904.98" font-size="14" text-anchor="end" font-weight="bold" fill="#000">2</text>
<line x1="51.70" y1="856.45" x2="57.20" y2="856.45" stroke="#000" stroke-width="1.6"/>
<text x="50.20" y="861.45" font-size="14" text-anchor="end" font-weight="bold" fill="#000">4</text>
<line x1="51.70" y1="812.92" x2="57.20" y2="812.92" stroke="#000" stroke-width="1.6"/>
<text x="50.20" y="817.92" font-size="14" text-anchor="end" font-weight="bold" fill="#000">6</text>
<line x1="51.70" y1="769.40" x2="57.20" y2="769.40" stroke="#000" stroke-width="1.6"/>
<text x="50.20" y="774.40" font-size="14" text-anchor="end" font-weight="bold" fill="#000">8</text>
<text x="14.30" y="855.80" font-size="14.2" text-anchor="middle" font-weight="bold" fill="#000" transform="rotate(-90 14.3 855.8)">BAP1 mRNA expression</text>
<text x="33.6" y="855.8" font-size="14.2" font-weight="bold" text-anchor="middle" transform="rotate(-90 33.6 855.8)">(Log2<tspan font-size="11" dy="-6">(FPKM+1)</tspan><tspan dy="6">)</tspan></text>
<line x1="86.20" y1="861.02" x2="86.20" y2="872.99" stroke="#000" stroke-width="1.6"/>
<line x1="86.20" y1="882.13" x2="86.20" y2="895.84" stroke="#000" stroke-width="1.6"/>
<line x1="76.00" y1="861.02" x2="96.40" y2="861.02" stroke="#000" stroke-width="1.6"/>
<line x1="76.00" y1="895.84" x2="96.40" y2="895.84" stroke="#000" stroke-width="1.6"/>
<rect x="66.45" y="872.99" width="39.50" height="9.14" fill="#7eaadd" stroke="#000" stroke-width="1.6"/>
<line x1="66.45" y1="878.21" x2="105.95" y2="878.21" stroke="#000" stroke-width="1.6"/>
<line x1="86.20" y1="943.50" x2="86.20" y2="949.00" stroke="#000" stroke-width="1.6"/>
<text x="86.20" y="964.00" font-size="14" text-anchor="middle" font-weight="bold" fill="#000">Normal</text>
<text x="86.20" y="979.60" font-size="14" text-anchor="middle" font-weight="bold" fill="#000">(n=50)</text>
<line x1="144.30" y1="832.08" x2="144.30" y2="852.32" stroke="#000" stroke-width="1.6"/>
<line x1="144.30" y1="865.15" x2="144.30" y2="908.03" stroke="#000" stroke-width="1.6"/>
<line x1="134.10" y1="832.08" x2="154.50" y2="832.08" stroke="#000" stroke-width="1.6"/>
<line x1="134.10" y1="908.03" x2="154.50" y2="908.03" stroke="#000" stroke-width="1.6"/>
<rect x="124.55" y="852.32" width="39.50" height="12.84" fill="#f2aa4c" stroke="#000" stroke-width="1.6"/>
<line x1="124.55" y1="858.63" x2="164.05" y2="858.63" stroke="#000" stroke-width="1.6"/>
<line x1="144.30" y1="943.50" x2="144.30" y2="949.00" stroke="#000" stroke-width="1.6"/>
<text x="144.30" y="964.00" font-size="14" text-anchor="middle" font-weight="bold" fill="#000">Stage 1</text>
<text x="144.30" y="979.60" font-size="14" text-anchor="middle" font-weight="bold" fill="#000">(n=171)</text>
<text x="144.30" y="823.20" font-size="16.2" text-anchor="middle" font-weight="normal" fill="#000">***</text>
<line x1="202.80" y1="829.25" x2="202.80" y2="850.36" stroke="#000" stroke-width="1.6"/>
<line x1="202.80" y1="863.41" x2="202.80" y2="909.77" stroke="#000" stroke-width="1.6"/>
<line x1="192.60" y1="829.25" x2="213.00" y2="829.25" stroke="#000" stroke-width="1.6"/>
<line x1="192.60" y1="909.77" x2="213.00" y2="909.77" stroke="#000" stroke-width="1.6"/>
<rect x="183.05" y="850.36" width="39.50" height="13.06" fill="#ea6428" stroke="#000" stroke-width="1.6"/>
<line x1="183.05" y1="857.32" x2="222.55" y2="857.32" stroke="#000" stroke-width="1.6"/>
<line x1="202.80" y1="943.50" x2="202.80" y2="949.00" stroke="#000" stroke-width="1.6"/>
<text x="202.80" y="964.00" font-size="14" text-anchor="middle" font-weight="bold" fill="#000">Stage 2</text>
<text x="202.80" y="979.60" font-size="14" text-anchor="middle" font-weight="bold" fill="#000">(n=86)</text>
<text x="202.80" y="823.20" font-size="16.2" text-anchor="middle" font-weight="normal" fill="#000">***</text>
<line x1="261.50" y1="835.99" x2="261.50" y2="849.27" stroke="#000" stroke-width="1.6"/>
<line x1="261.50" y1="861.67" x2="261.50" y2="899.10" stroke="#000" stroke-width="1.6"/>
<line x1="251.30" y1="835.99" x2="271.70" y2="835.99" stroke="#000" stroke-width="1.6"/>
<line x1="251.30" y1="899.10" x2="271.70" y2="899.10" stroke="#000" stroke-width="1.6"/>
<rect x="241.75" y="849.27" width="39.50" height="12.40" fill="#72e08c" stroke="#000" stroke-width="1.6"/>
<line x1="241.75" y1="855.80" x2="281.25" y2="855.80" stroke="#000" stroke-width="1.6"/>
<line x1="261.50" y1="943.50" x2="261.50" y2="949.00" stroke="#000" stroke-width="1.6"/>
<text x="261.50" y="964.00" font-size="14" text-anchor="middle" font-weight="bold" fill="#000">Stage 3</text>
<text x="261.50" y="979.60" font-size="14" text-anchor="middle" font-weight="bold" fill="#000">(n=85)</text>
<text x="261.50" y="823.20" font-size="16.2" text-anchor="middle" font-weight="normal" fill="#000">***</text>
<line x1="320.00" y1="857.54" x2="320.00" y2="858.84" stroke="#000" stroke-width="1.6"/>
<line x1="320.00" y1="868.64" x2="320.00" y2="868.64" stroke="#000" stroke-width="1.6"/>
<line x1="309.80" y1="857.54" x2="330.20" y2="857.54" stroke="#000" stroke-width="1.6"/>
<line x1="309.80" y1="868.64" x2="330.20" y2="868.64" stroke="#000" stroke-width="1.6"/>
<rect x="300.25" y="858.84" width="39.50" height="9.79" fill="#e84a4a" stroke="#000" stroke-width="1.6"/>
<line x1="300.25" y1="864.94" x2="339.75" y2="864.94" stroke="#000" stroke-width="1.6"/>
<line x1="320.00" y1="943.50" x2="320.00" y2="949.00" stroke="#000" stroke-width="1.6"/>
<text x="320.00" y="964.00" font-size="14" text-anchor="middle" font-weight="bold" fill="#000">Stage 4</text>
<text x="320.00" y="979.60" font-size="14" text-anchor="middle" font-weight="bold" fill="#000">(n=5)</text>
<text x="320.00" y="823.20" font-size="16.2" text-anchor="middle" font-weight="normal" fill="#000">***</text>
</g>
<g id="panelE">
<text x="360.60" y="746.20" font-size="24.4" text-anchor="start" font-weight="bold" fill="#000">E</text>
<text x="418.60" y="759.80" font-size="16.1" text-anchor="start" font-weight="bold" fill="#000">BAP1 mRNA expression (TCGA)</text>
<rect x="415.0" y="769.9" width="253.10" height="168.60" fill="none" stroke="#000" stroke-width="1.6"/>
<line x1="410.20" y1="938.50" x2="415.00" y2="938.50" stroke="#000" stroke-width="1.6"/>
<text x="408.20" y="943.20" font-size="13.3" text-anchor="end" font-weight="bold" fill="#000">0</text>
<line x1="410.20" y1="910.40" x2="415.00" y2="910.40" stroke="#000" stroke-width="1.6"/>
<text x="408.20" y="915.10" font-size="13.3" text-anchor="end" font-weight="bold" fill="#000">20</text>
<line x1="410.20" y1="882.30" x2="415.00" y2="882.30" stroke="#000" stroke-width="1.6"/>
<text x="408.20" y="887.00" font-size="13.3" text-anchor="end" font-weight="bold" fill="#000">40</text>
<line x1="410.20" y1="854.20" x2="415.00" y2="854.20" stroke="#000" stroke-width="1.6"/>
<text x="408.20" y="858.90" font-size="13.3" text-anchor="end" font-weight="bold" fill="#000">60</text>
<line x1="410.20" y1="826.10" x2="415.00" y2="826.10" stroke="#000" stroke-width="1.6"/>
<text x="408.20" y="830.80" font-size="13.3" text-anchor="end" font-weight="bold" fill="#000">80</text>
<line x1="410.20" y1="798.00" x2="415.00" y2="798.00" stroke="#000" stroke-width="1.6"/>
<text x="408.20" y="802.70" font-size="13.3" text-anchor="end" font-weight="bold" fill="#000">100</text>
<line x1="410.20" y1="769.90" x2="415.00" y2="769.90" stroke="#000" stroke-width="1.6"/>
<text x="408.20" y="774.60" font-size="13.3" text-anchor="end" font-weight="bold" fill="#000">120</text>
<line x1="415.00" y1="938.50" x2="415.00" y2="943.50" stroke="#000" stroke-width="1.6"/>
<text x="415.00" y="957.80" font-size="13.3" text-anchor="middle" font-weight="bold" fill="#000">0</text>
<line x1="478.28" y1="938.50" x2="478.28" y2="943.50" stroke="#000" stroke-width="1.6"/>
<text x="478.28" y="957.80" font-size="13.3" text-anchor="middle" font-weight="bold" fill="#000">1000</text>
<line x1="541.55" y1="938.50" x2="541.55" y2="943.50" stroke="#000" stroke-width="1.6"/>
<text x="541.55" y="957.80" font-size="13.3" text-anchor="middle" font-weight="bold" fill="#000">2000</text>
<line x1="604.83" y1="938.50" x2="604.83" y2="943.50" stroke="#000" stroke-width="1.6"/>
<text x="604.83" y="957.80" font-size="13.3" text-anchor="middle" font-weight="bold" fill="#000">3000</text>
<line x1="668.10" y1="938.50" x2="668.10" y2="943.50" stroke="#000" stroke-width="1.6"/>
<text x="668.10" y="957.80" font-size="13.3" text-anchor="middle" font-weight="bold" fill="#000">4000</text>
<text x="542.80" y="977.00" font-size="14.2" text-anchor="middle" font-weight="bold" fill="#000">Days</text>
<text x="377.60" y="853.20" font-size="13.7" text-anchor="middle" font-weight="bold" fill="#000" transform="rotate(-90 377.6 853.2)">Percent survival</text>
<text x="663.6" y="786.6" font-size="13.8" font-weight="bold" text-anchor="end"><tspan font-style="italic">P</tspan>=0.0465*</text>
<path d="M415.00,798.00 H416.52 V800.39 H418.04 V802.78 H419.56 V805.17 H421.07 V807.55 H422.56 V808.85 H424.05 V810.15 H425.54 V811.45 H427.02 V812.75 H428.76 V815.07 H430.50 V817.39 H432.06 V819.17 H433.62 V820.95 H435.18 V822.73 H436.72 V824.09 H438.26 V825.44 H439.80 V826.80 H441.36 V828.11 H442.93 V829.43 H444.49 V830.74 H446.07 V831.53 H447.65 V832.33 H449.23 V833.12 H450.75 V834.11 H452.27 V835.09 H453.79 V836.08 H455.37 V837.81 H456.95 V839.54 H458.53 V841.27 H460.09 V843.19 H461.65 V845.11 H463.22 V847.03 H464.78 V848.21 H466.34 V849.38 H467.90 V850.55 H469.80 V852.09 H471.25 V852.79 H472.71 V853.50 H474.16 V854.20 H475.62 V854.90 H477.09 V855.75 H478.56 V856.59 H480.04 V857.43 H481.51 V858.27 H482.98 V859.12 H484.46 V859.96 H485.93 V860.80 H487.39 V860.88 H488.84 V860.96 H490.30 V861.04 H491.75 V861.12 H493.21 V861.19 H494.66 V861.27 H496.12 V861.35 H497.57 V861.43 H499.03 V861.51 H500.14 V862.98 H501.24 V864.46 H502.70 V866.63 H504.15 V868.81 H505.51 V868.91 H506.87 V869.01 H508.22 V869.11 H509.58 V869.21 H510.93 V869.31 H512.29 V869.41 H513.65 V869.51 H515.10 V870.45 H516.56 V871.39 H518.01 V872.32 H519.49 V873.78 H520.96 V875.23 H522.44 V876.68 H523.90 V876.73 H525.35 V876.77 H526.81 V876.82 H528.26 V876.87 H529.72 V876.91 H531.17 V876.96 H532.25 V878.16 H533.32 V879.35 H571.61 V879.35 H571.61 V887.92 H573.31 V887.92 H573.31 V896.77 H576.79 V896.77 H576.79 V913.21 H613.49 V913.21 H613.49 V921.50 H621.91 V921.50 H621.91 V930.21 H648.17 V930.21" fill="none" stroke="#e8412c" stroke-width="1.6"/>
<path d="M415.00,798.00 H416.52 V799.55 H418.04 V801.09 H419.56 V802.64 H421.07 V804.18 H422.56 V805.02 H424.05 V805.87 H425.54 V806.71 H427.02 V807.55 H428.46 V808.43 H429.90 V809.31 H431.34 V810.19 H432.78 V811.07 H434.15 V812.24 H435.52 V813.41 H436.89 V814.58 H438.26 V816.31 H439.64 V818.04 H441.01 V819.78 H442.46 V820.52 H443.92 V821.25 H445.37 V821.99 H446.83 V822.73 H448.39 V823.90 H449.95 V825.07 H451.51 V826.24 H453.25 V827.93 H454.99 V829.61 H456.57 V830.60 H458.15 V831.58 H459.74 V832.56 H461.30 V833.73 H462.86 V834.90 H464.42 V836.08 H465.87 V837.27 H467.33 V838.46 H468.78 V839.66 H470.24 V840.85 H471.80 V841.18 H473.36 V841.51 H474.92 V841.84 H476.31 V841.85 H477.71 V841.86 H479.10 V841.88 H480.49 V841.89 H481.88 V841.91 H483.27 V841.92 H484.67 V841.93 H486.06 V841.95 H487.45 V841.96 H488.84 V841.98 H490.30 V843.73 H491.75 V845.49 H492.95 V847.17 H494.16 V848.86 H495.36 V850.55 H496.72 V850.77 H498.07 V850.99 H499.43 V851.21 H500.78 V851.43 H502.14 V851.65 H503.49 V851.87 H504.85 V852.09 H506.32 V852.21 H507.78 V852.33 H509.25 V852.44 H510.71 V852.56 H512.18 V852.68 H513.65 V852.79 H515.10 V854.97 H516.56 V857.15 H517.78 V858.13 H519.00 V859.12 H520.23 V860.10 H521.57 V860.34 H522.90 V860.57 H524.24 V860.80 H525.58 V861.04 H526.92 V861.27 H528.26 V861.51 H528.96 V866.28 H549.46 V866.28 H550.16 V876.54 H635.83 V876.54" fill="none" stroke="#000" stroke-width="1.6"/>
<line x1="417.53" y1="797.58" x2="417.53" y2="802.18" stroke="#000" stroke-width="1.6"/>
<line x1="419.05" y1="799.12" x2="419.05" y2="803.72" stroke="#000" stroke-width="1.6"/>
<line x1="420.57" y1="800.67" x2="420.57" y2="805.27" stroke="#000" stroke-width="1.6"/>
<line x1="422.09" y1="801.76" x2="422.09" y2="806.36" stroke="#000" stroke-width="1.6"/>
<line x1="423.61" y1="802.62" x2="423.61" y2="807.22" stroke="#000" stroke-width="1.6"/>
<line x1="425.12" y1="803.48" x2="425.12" y2="808.08" stroke="#000" stroke-width="1.6"/>
<line x1="426.64" y1="804.34" x2="426.64" y2="808.94" stroke="#000" stroke-width="1.6"/>
<line x1="428.16" y1="805.25" x2="428.16" y2="809.85" stroke="#000" stroke-width="1.6"/>
<line x1="429.68" y1="806.18" x2="429.68" y2="810.78" stroke="#000" stroke-width="1.6"/>
<line x1="431.20" y1="807.10" x2="431.20" y2="811.70" stroke="#000" stroke-width="1.6"/>
<line x1="432.72" y1="808.03" x2="432.72" y2="812.63" stroke="#000" stroke-width="1.6"/>
<line x1="434.24" y1="809.31" x2="434.24" y2="813.91" stroke="#000" stroke-width="1.6"/>
<line x1="435.75" y1="810.61" x2="435.75" y2="815.21" stroke="#000" stroke-width="1.6"/>
<line x1="437.27" y1="812.06" x2="437.27" y2="816.66" stroke="#000" stroke-width="1.6"/>
<line x1="438.79" y1="813.98" x2="438.79" y2="818.58" stroke="#000" stroke-width="1.6"/>
<line x1="440.31" y1="815.90" x2="440.31" y2="820.50" stroke="#000" stroke-width="1.6"/>
<line x1="441.83" y1="817.19" x2="441.83" y2="821.79" stroke="#000" stroke-width="1.6"/>
<line x1="443.35" y1="817.96" x2="443.35" y2="822.56" stroke="#000" stroke-width="1.6"/>
<line x1="444.87" y1="818.73" x2="444.87" y2="823.33" stroke="#000" stroke-width="1.6"/>
<line x1="446.38" y1="819.50" x2="446.38" y2="824.10" stroke="#000" stroke-width="1.6"/>
<line x1="447.90" y1="820.53" x2="447.90" y2="825.13" stroke="#000" stroke-width="1.6"/>
<line x1="449.42" y1="821.67" x2="449.42" y2="826.27" stroke="#000" stroke-width="1.6"/>
<line x1="450.94" y1="822.81" x2="450.94" y2="827.41" stroke="#000" stroke-width="1.6"/>
<line x1="452.46" y1="824.16" x2="452.46" y2="828.76" stroke="#000" stroke-width="1.6"/>
<line x1="453.98" y1="825.63" x2="453.98" y2="830.23" stroke="#000" stroke-width="1.6"/>
<line x1="455.50" y1="826.93" x2="455.50" y2="831.53" stroke="#000" stroke-width="1.6"/>
<line x1="457.01" y1="827.87" x2="457.01" y2="832.47" stroke="#000" stroke-width="1.6"/>
<line x1="458.53" y1="828.82" x2="458.53" y2="833.42" stroke="#000" stroke-width="1.6"/>
<line x1="460.05" y1="829.80" x2="460.05" y2="834.40" stroke="#000" stroke-width="1.6"/>
<line x1="461.57" y1="830.94" x2="461.57" y2="835.54" stroke="#000" stroke-width="1.6"/>
<line x1="463.09" y1="832.08" x2="463.09" y2="836.68" stroke="#000" stroke-width="1.6"/>
<line x1="464.61" y1="833.23" x2="464.61" y2="837.83" stroke="#000" stroke-width="1.6"/>
<line x1="466.13" y1="834.48" x2="466.13" y2="839.08" stroke="#000" stroke-width="1.6"/>
<line x1="467.64" y1="835.72" x2="467.64" y2="840.32" stroke="#000" stroke-width="1.6"/>
<line x1="469.16" y1="836.97" x2="469.16" y2="841.57" stroke="#000" stroke-width="1.6"/>
<line x1="470.68" y1="837.95" x2="470.68" y2="842.55" stroke="#000" stroke-width="1.6"/>
<line x1="472.20" y1="838.26" x2="472.20" y2="842.86" stroke="#000" stroke-width="1.6"/>
<line x1="473.72" y1="838.58" x2="473.72" y2="843.18" stroke="#000" stroke-width="1.6"/>
<line x1="475.24" y1="838.84" x2="475.24" y2="843.44" stroke="#000" stroke-width="1.6"/>
<line x1="476.76" y1="838.85" x2="476.76" y2="843.45" stroke="#000" stroke-width="1.6"/>
<line x1="478.28" y1="838.87" x2="478.28" y2="843.47" stroke="#000" stroke-width="1.6"/>
<line x1="479.67" y1="838.88" x2="479.67" y2="843.48" stroke="#000" stroke-width="1.6"/>
<line x1="481.06" y1="838.90" x2="481.06" y2="843.50" stroke="#000" stroke-width="1.6"/>
<line x1="482.45" y1="838.91" x2="482.45" y2="843.51" stroke="#000" stroke-width="1.6"/>
<line x1="483.84" y1="838.93" x2="483.84" y2="843.53" stroke="#000" stroke-width="1.6"/>
<line x1="485.24" y1="838.94" x2="485.24" y2="843.54" stroke="#000" stroke-width="1.6"/>
<line x1="486.63" y1="838.95" x2="486.63" y2="843.55" stroke="#000" stroke-width="1.6"/>
<line x1="488.02" y1="838.97" x2="488.02" y2="843.57" stroke="#000" stroke-width="1.6"/>
<line x1="489.41" y1="839.66" x2="489.41" y2="844.26" stroke="#000" stroke-width="1.6"/>
<line x1="490.80" y1="841.34" x2="490.80" y2="845.94" stroke="#000" stroke-width="1.6"/>
<line x1="492.20" y1="843.11" x2="492.20" y2="847.71" stroke="#000" stroke-width="1.6"/>
<line x1="493.59" y1="845.06" x2="493.59" y2="849.66" stroke="#000" stroke-width="1.6"/>
<line x1="496.62" y1="847.75" x2="496.62" y2="852.35" stroke="#000" stroke-width="1.6"/>
<line x1="499.16" y1="848.17" x2="499.16" y2="852.77" stroke="#000" stroke-width="1.6"/>
<line x1="501.05" y1="848.47" x2="501.05" y2="853.07" stroke="#000" stroke-width="1.6"/>
<line x1="502.95" y1="848.78" x2="502.95" y2="853.38" stroke="#000" stroke-width="1.6"/>
<line x1="506.12" y1="849.19" x2="506.12" y2="853.79" stroke="#000" stroke-width="1.6"/>
<line x1="508.01" y1="849.35" x2="508.01" y2="853.95" stroke="#000" stroke-width="1.6"/>
<line x1="509.91" y1="849.50" x2="509.91" y2="854.10" stroke="#000" stroke-width="1.6"/>
<line x1="511.81" y1="849.65" x2="511.81" y2="854.25" stroke="#000" stroke-width="1.6"/>
<line x1="517.51" y1="854.91" x2="517.51" y2="859.51" stroke="#000" stroke-width="1.6"/>
<line x1="521.93" y1="857.40" x2="521.93" y2="862.00" stroke="#000" stroke-width="1.6"/>
<line x1="523.83" y1="857.73" x2="523.83" y2="862.33" stroke="#000" stroke-width="1.6"/>
<line x1="526.36" y1="858.17" x2="526.36" y2="862.77" stroke="#000" stroke-width="1.6"/>
<line x1="539.02" y1="863.28" x2="539.02" y2="867.88" stroke="#000" stroke-width="1.6"/>
<line x1="540.92" y1="863.28" x2="540.92" y2="867.88" stroke="#000" stroke-width="1.6"/>
<line x1="542.18" y1="863.28" x2="542.18" y2="867.88" stroke="#000" stroke-width="1.6"/>
<line x1="544.08" y1="863.28" x2="544.08" y2="867.88" stroke="#000" stroke-width="1.6"/>
<line x1="551.67" y1="873.54" x2="551.67" y2="878.14" stroke="#000" stroke-width="1.6"/>
<line x1="556.74" y1="873.54" x2="556.74" y2="878.14" stroke="#000" stroke-width="1.6"/>
<line x1="561.23" y1="873.54" x2="561.23" y2="878.14" stroke="#000" stroke-width="1.6"/>
<line x1="568.19" y1="873.54" x2="568.19" y2="878.14" stroke="#000" stroke-width="1.6"/>
<line x1="575.21" y1="873.54" x2="575.21" y2="878.14" stroke="#000" stroke-width="1.6"/>
<line x1="589.20" y1="873.54" x2="589.20" y2="878.14" stroke="#000" stroke-width="1.6"/>
<line x1="625.20" y1="873.54" x2="625.20" y2="878.14" stroke="#000" stroke-width="1.6"/>
<line x1="633.11" y1="873.54" x2="633.11" y2="878.14" stroke="#000" stroke-width="1.6"/>
<line x1="635.70" y1="873.54" x2="635.70" y2="878.14" stroke="#000" stroke-width="1.6"/>
<line x1="416.90" y1="797.99" x2="416.90" y2="802.59" stroke="#000" stroke-width="1.6"/>
<line x1="418.29" y1="800.18" x2="418.29" y2="804.78" stroke="#000" stroke-width="1.6"/>
<line x1="419.68" y1="802.36" x2="419.68" y2="806.96" stroke="#000" stroke-width="1.6"/>
<line x1="421.07" y1="804.55" x2="421.07" y2="809.15" stroke="#000" stroke-width="1.6"/>
<line x1="422.47" y1="805.77" x2="422.47" y2="810.37" stroke="#000" stroke-width="1.6"/>
<line x1="423.86" y1="806.99" x2="423.86" y2="811.59" stroke="#000" stroke-width="1.6"/>
<line x1="425.25" y1="808.20" x2="425.25" y2="812.80" stroke="#000" stroke-width="1.6"/>
<line x1="426.64" y1="809.42" x2="426.64" y2="814.02" stroke="#000" stroke-width="1.6"/>
<line x1="428.03" y1="811.10" x2="428.03" y2="815.70" stroke="#000" stroke-width="1.6"/>
<line x1="429.43" y1="812.96" x2="429.43" y2="817.56" stroke="#000" stroke-width="1.6"/>
<line x1="430.82" y1="814.75" x2="430.82" y2="819.35" stroke="#000" stroke-width="1.6"/>
<line x1="432.21" y1="816.34" x2="432.21" y2="820.94" stroke="#000" stroke-width="1.6"/>
<line x1="433.60" y1="817.92" x2="433.60" y2="822.52" stroke="#000" stroke-width="1.6"/>
<line x1="434.99" y1="819.51" x2="434.99" y2="824.11" stroke="#000" stroke-width="1.6"/>
<line x1="436.39" y1="820.79" x2="436.39" y2="825.39" stroke="#000" stroke-width="1.6"/>
<line x1="437.78" y1="822.02" x2="437.78" y2="826.62" stroke="#000" stroke-width="1.6"/>
<line x1="439.17" y1="823.24" x2="439.17" y2="827.84" stroke="#000" stroke-width="1.6"/>
<line x1="440.56" y1="824.44" x2="440.56" y2="829.04" stroke="#000" stroke-width="1.6"/>
<line x1="441.96" y1="825.61" x2="441.96" y2="830.21" stroke="#000" stroke-width="1.6"/>
<line x1="443.35" y1="826.78" x2="443.35" y2="831.38" stroke="#000" stroke-width="1.6"/>
<line x1="444.74" y1="827.86" x2="444.74" y2="832.46" stroke="#000" stroke-width="1.6"/>
<line x1="446.13" y1="828.56" x2="446.13" y2="833.16" stroke="#000" stroke-width="1.6"/>
<line x1="447.52" y1="829.27" x2="447.52" y2="833.87" stroke="#000" stroke-width="1.6"/>
<line x1="448.92" y1="829.97" x2="448.92" y2="834.57" stroke="#000" stroke-width="1.6"/>
<line x1="450.31" y1="830.82" x2="450.31" y2="835.42" stroke="#000" stroke-width="1.6"/>
<line x1="451.70" y1="831.72" x2="451.70" y2="836.32" stroke="#000" stroke-width="1.6"/>
<line x1="453.09" y1="832.62" x2="453.09" y2="837.22" stroke="#000" stroke-width="1.6"/>
<line x1="454.48" y1="833.84" x2="454.48" y2="838.44" stroke="#000" stroke-width="1.6"/>
<line x1="455.88" y1="835.36" x2="455.88" y2="839.96" stroke="#000" stroke-width="1.6"/>
<line x1="457.27" y1="836.89" x2="457.27" y2="841.49" stroke="#000" stroke-width="1.6"/>
<line x1="458.66" y1="838.43" x2="458.66" y2="843.03" stroke="#000" stroke-width="1.6"/>
<line x1="460.05" y1="840.14" x2="460.05" y2="844.74" stroke="#000" stroke-width="1.6"/>
<line x1="461.44" y1="841.85" x2="461.44" y2="846.45" stroke="#000" stroke-width="1.6"/>
<line x1="462.84" y1="843.57" x2="462.84" y2="848.17" stroke="#000" stroke-width="1.6"/>
<line x1="464.23" y1="844.79" x2="464.23" y2="849.39" stroke="#000" stroke-width="1.6"/>
<line x1="465.62" y1="845.84" x2="465.62" y2="850.44" stroke="#000" stroke-width="1.6"/>
<line x1="467.01" y1="846.88" x2="467.01" y2="851.48" stroke="#000" stroke-width="1.6"/>
<line x1="468.40" y1="847.96" x2="468.40" y2="852.56" stroke="#000" stroke-width="1.6"/>
<line x1="470.68" y1="849.52" x2="470.68" y2="854.12" stroke="#000" stroke-width="1.6"/>
<line x1="471.95" y1="850.13" x2="471.95" y2="854.73" stroke="#000" stroke-width="1.6"/>
<line x1="474.48" y1="851.35" x2="474.48" y2="855.95" stroke="#000" stroke-width="1.6"/>
<line x1="478.28" y1="853.42" x2="478.28" y2="858.02" stroke="#000" stroke-width="1.6"/>
<line x1="482.07" y1="855.60" x2="482.07" y2="860.20" stroke="#000" stroke-width="1.6"/>
<line x1="484.60" y1="857.04" x2="484.60" y2="861.64" stroke="#000" stroke-width="1.6"/>
<line x1="488.40" y1="857.94" x2="488.40" y2="862.54" stroke="#000" stroke-width="1.6"/>
<line x1="492.83" y1="858.17" x2="492.83" y2="862.77" stroke="#000" stroke-width="1.6"/>
<line x1="495.99" y1="858.34" x2="495.99" y2="862.94" stroke="#000" stroke-width="1.6"/>
<line x1="504.85" y1="865.86" x2="504.85" y2="870.46" stroke="#000" stroke-width="1.6"/>
<line x1="506.75" y1="866.00" x2="506.75" y2="870.60" stroke="#000" stroke-width="1.6"/>
<line x1="508.65" y1="866.14" x2="508.65" y2="870.74" stroke="#000" stroke-width="1.6"/>
<line x1="510.55" y1="866.29" x2="510.55" y2="870.89" stroke="#000" stroke-width="1.6"/>
<line x1="515.61" y1="867.78" x2="515.61" y2="872.38" stroke="#000" stroke-width="1.6"/>
<line x1="519.40" y1="870.69" x2="519.40" y2="875.29" stroke="#000" stroke-width="1.6"/>
<line x1="523.83" y1="873.72" x2="523.83" y2="878.32" stroke="#000" stroke-width="1.6"/>
<line x1="535.22" y1="876.35" x2="535.22" y2="880.95" stroke="#000" stroke-width="1.6"/>
<line x1="540.92" y1="876.35" x2="540.92" y2="880.95" stroke="#000" stroke-width="1.6"/>
<line x1="544.71" y1="876.35" x2="544.71" y2="880.95" stroke="#000" stroke-width="1.6"/>
<line x1="548.51" y1="876.35" x2="548.51" y2="880.95" stroke="#000" stroke-width="1.6"/>
<line x1="554.21" y1="876.35" x2="554.21" y2="880.95" stroke="#000" stroke-width="1.6"/>
<line x1="557.37" y1="876.35" x2="557.37" y2="880.95" stroke="#000" stroke-width="1.6"/>
<line x1="566.86" y1="876.35" x2="566.86" y2="880.95" stroke="#000" stroke-width="1.6"/>
<line x1="571.61" y1="880.20" x2="571.61" y2="885.80" stroke="#000" stroke-width="1.6"/>
<line x1="573.31" y1="889.34" x2="573.31" y2="894.93" stroke="#000" stroke-width="1.6"/>
<line x1="576.79" y1="901.98" x2="576.79" y2="907.58" stroke="#000" stroke-width="1.6"/>
<line x1="613.49" y1="914.62" x2="613.49" y2="920.22" stroke="#000" stroke-width="1.6"/>
<line x1="648.17" y1="927.41" x2="648.17" y2="933.01" stroke="#000" stroke-width="1.6"/>
<text x="496.50" y="845.20" font-size="13.7" text-anchor="start" font-weight="bold" fill="#000">Below median expression</text>
<text x="432.00" y="927.40" font-size="13.7" text-anchor="start" font-weight="bold" fill="#000">Above median expression</text>
</g>
</svg>
</body></html>
